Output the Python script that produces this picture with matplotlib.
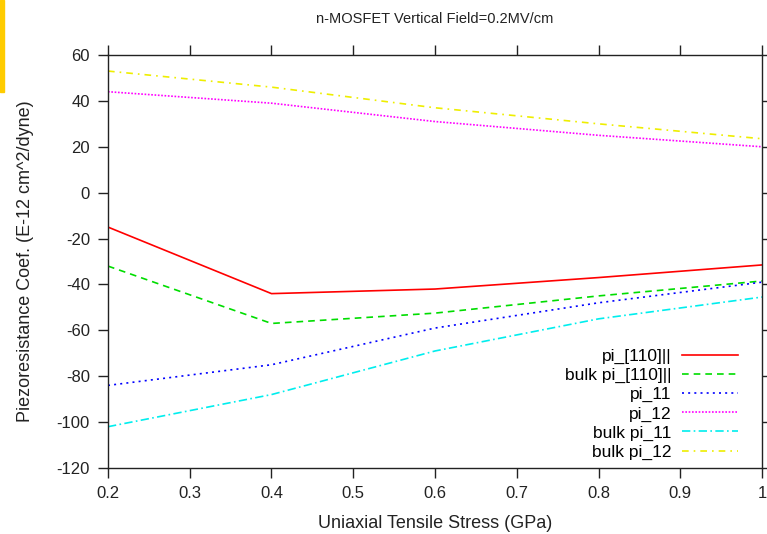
import matplotlib
matplotlib.use('Agg')
import matplotlib.pyplot as plt
from matplotlib.patches import Rectangle

plt.rcParams['font.family'] = ['Liberation Sans', 'DejaVu Sans']
plt.rcParams['axes.unicode_minus'] = False

# uniaxial tensile stress (GPa)
stress = [0.2, 0.4, 0.6, 0.8, 1.0]

# piezoresistance coefficients (E-12 cm^2/dyne)
pi_110 = [-15, -44, -42, -37, -31.5]
bulk_pi_110 = [-32, -57, -52.5, -45, -38.5]
pi_11 = [-84, -75, -59, -48, -39]
pi_12 = [44, 39, 31, 25, 20]
bulk_pi_11 = [-102, -88, -69, -55, -45.5]
bulk_pi_12 = [53, 46, 37, 30, 23.5]

labels = ['pi_[110]||', 'bulk pi_[110]||', 'pi_11', 'pi_12',
          'bulk pi_11', 'bulk pi_12']

xticks = [0.2, 0.3, 0.4, 0.5, 0.6, 0.7, 0.8, 0.9, 1.0]
xticklabels = ['0.2', '0.3', '0.4', '0.5', '0.6', '0.7', '0.8', '0.9', '1']
yticks = list(range(-120, 61, 20))

fig = plt.figure(figsize=(7.67, 5.34), dpi=100)
ax = fig.add_axes([0.1408, 0.1236, 0.8527, 0.7734])

ax.plot(stress, pi_110, color='#ff0000', lw=1.2, ls='-', label=labels[0])
ax.plot(stress, bulk_pi_110, color='#00dd00', lw=1.2, ls=(0, (4, 3)), label=labels[1])
ax.plot(stress, pi_11, color='#0000ff', lw=1.2, ls=(0, (1.2, 2.5)), label=labels[2])
ax.plot(stress, pi_12, color='#ff00ff', lw=1.2, ls=(0, (1, 1)), label=labels[3])
ax.plot(stress, bulk_pi_11, color='#00eeee', lw=1.2, ls=(0, (5, 2, 1, 2)), label=labels[4])
ax.plot(stress, bulk_pi_12, color='#eeee00', lw=1.2, ls=(0, (4, 3, 1, 3)), label=labels[5])

ax.set_xlim(0.2, 1.0)
ax.set_ylim(-120, 60)
ax.set_xticks(xticks)
ax.set_xticklabels(xticklabels)
ax.set_yticks(yticks)
ax.tick_params(direction='out', length=7, width=1, labelsize=12, pad=6,
               top=True, right=True, colors='#222222')
for s in ax.spines.values():
    s.set_linewidth(1)
    s.set_color('#222222')

ax.set_title('n-MOSFET Vertical Field=0.2MV/cm', fontsize=10.5, pad=23, color='#222222')
ax.set_xlabel('Uniaxial Tensile Stress (GPa)', fontsize=13, labelpad=10, color='#222222')
ax.set_ylabel('Piezoresistance Coef. (E-12 cm^2/dyne)', fontsize=13, labelpad=16, color='#222222')

leg = ax.legend(loc='lower right', bbox_to_anchor=(0.963, 0.02),
                frameon=False, markerfirst=False, fontsize=12.5,
                handlelength=3.2, labelspacing=0.22, handletextpad=0.6,
                borderpad=0, borderaxespad=0)

# gold stripe at the left edge
fig.patches.append(Rectangle((0, 1 - 92 / 534), 4 / 767, 92 / 534,
                             transform=fig.transFigure, color='#ffcc00'))

fig.savefig('out.png', dpi=100)
